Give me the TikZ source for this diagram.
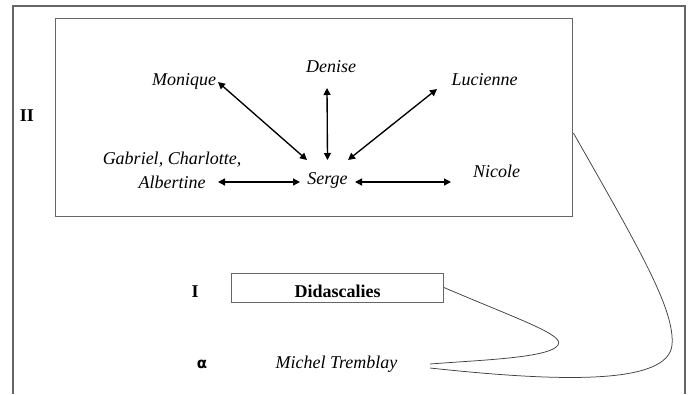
\documentclass[tikz,border=0pt]{standalone}
\usepackage{fontspec}
\setmainfont{Liberation Serif}
\newfontfamily\alphafont{DejaVu Sans}
\usetikzlibrary{arrows.meta,calc}
\begin{document}
\begin{tikzpicture}[x=1pt,y=-1pt,
  lbl/.style={inner sep=0pt, anchor=base, font=\fontsize{18}{24}\selectfont\itshape},
  roman/.style={inner sep=0pt, anchor=base, font=\fontsize{18}{22}\selectfont\bfseries},
  rel/.style={{Triangle[length=7pt,width=7pt]}-{Triangle[length=7pt,width=7pt]}, line width=1.35pt},
  boxframe/.style={draw=black!60, line width=0.8pt},
  link/.style={draw=black!75, line width=0.75pt}]
\useasboundingbox (0,0) rectangle (692,394);
% outer frame
\draw[black!60, line width=1.6pt] (13,394) -- (13,6) -- (685,6) -- (685,394);
% level II
\node[boxframe, minimum width=517pt, minimum height=198pt, inner sep=0pt] (act2) at (313.5,117) {};
\node[roman] (II) at (27,121) {II};
\node[lbl] (denise) at (331,72) {Denise};
\node[lbl] (monique) at (184,85) {Monique};
\node[lbl] (lucienne) at (484.5,85) {Lucienne};
\node[lbl] (serge) at (327.5,184) {Serge};
\node[lbl] (nicole) at (496.5,177) {Nicole};
\node[lbl, anchor=center, align=center] (gab) at (172,170) {Gabriel, Charlotte,\\Albertine};
\draw[rel] ($(monique.base)+(34,-3)$) -- ($(serge.base)+(-20.5,-24)$);
\draw[rel] ($(denise.base)+(-4,16)$) -- ($(serge.base)+(0,-24)$);
\draw[rel] ($(lucienne.base)+(-47.5,4)$) -- ($(serge.base)+(20.5,-24)$);
\draw[rel] ($(gab.center)+(46,12)$) -- ($(serge.base)+(-27.5,-2)$);
\draw[rel] ($(serge.base)+(27.5,-2)$) -- ($(nicole.base)+(-45.5,5)$);
% level I
\node[roman] (I) at (195,297) {I};
\node[boxframe, inner sep=0pt, minimum width=212pt, minimum height=29pt, text height=21pt, text depth=2pt, font=\fontsize{18}{22}\selectfont\bfseries] (dida) at (337.5,287.5) {Didascalies};
% level alpha
\node[inner sep=0pt, anchor=base, font=\fontsize{15}{18}\selectfont\alphafont\bfseries] (alpha) at (202,368) {α};
\node[lbl] (michel) at (336.5,368) {Michel Tremblay};
% links
\draw[link] (dida.east) .. controls (520,320) and (565,335) .. (558,345)
  .. controls (550,358) and (480,360) .. ($(michel.base)+(93.5,-4)$);
\draw[link] ($(michel.base)+(93.5,0)$) .. controls (560,382) and (668,385) .. (672,345)
  .. controls (675,310) and (640,250) .. ($(act2.east)+(1,16)$);
\end{tikzpicture}
\end{document}
